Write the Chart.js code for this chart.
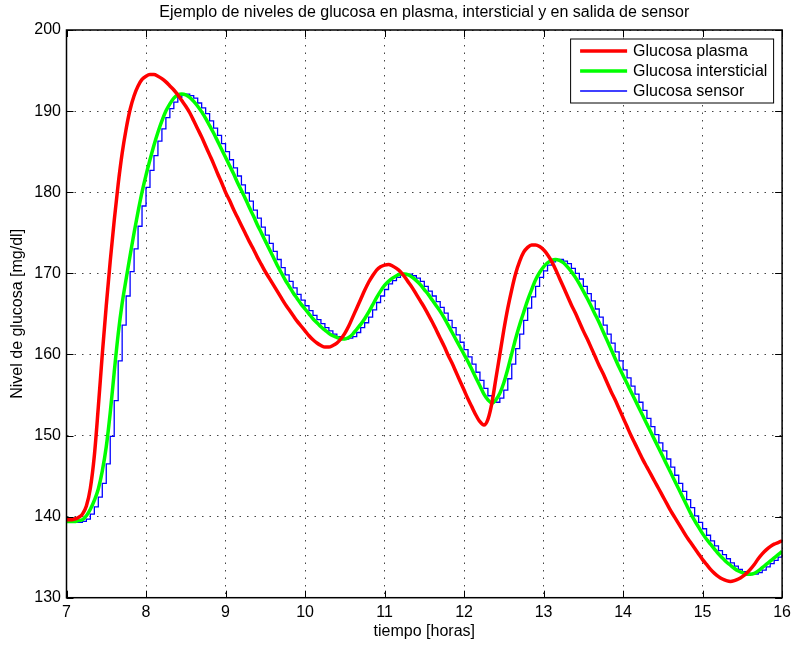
<!DOCTYPE html>
<html>
<head>
<meta charset="utf-8">
<title>Niveles de glucosa</title>
<script src="https://cdn.jsdelivr.net/npm/chart.js"></script>
<style>
    html, body { margin: 0; padding: 0; background: #ffffff; }
    #wrap { position: relative; width: 796px; height: 645px; }
</style>
</head>
<body>
<div id="wrap"><canvas id="glucose-chart"></canvas></div>
<script>
// one sample every 3 minutes, 7:00 -> 16:00
const t_start = 7;
const t_step = 0.05;

// glucosa plasma [mg/dl]
const plasma = [
    139.6, 139.6, 139.7, 139.9, 140.3, 141.3, 143.5, 147.5, 153.5, 160.0,
    166.0, 171.5, 176.5, 181.0, 184.8, 187.8, 190.2, 191.9, 193.1, 193.9,
    194.3, 194.5, 194.5, 194.3, 194.0, 193.6, 193.1, 192.6, 192.0, 191.3,
    190.6, 189.8, 188.8, 187.8, 186.8, 185.7, 184.6, 183.5, 182.3, 181.2,
    180.0, 179.0, 177.9, 176.9, 175.9, 174.9, 173.9, 173.0, 172.0, 171.1,
    170.2, 169.4, 168.6, 167.8, 167.0, 166.2, 165.5, 164.8, 164.1, 163.5,
    162.9, 162.3, 161.8, 161.4, 161.1, 160.9, 160.9, 161.1, 161.4, 161.9,
    162.6, 163.5, 164.6, 165.7, 166.8, 167.9, 168.9, 169.7, 170.4, 170.8,
    171.0, 171.1, 170.9, 170.6, 170.2, 169.6, 168.9, 168.2, 167.4, 166.6,
    165.8, 164.9, 164.0, 163.0, 162.0, 161.0, 159.9, 158.9, 157.8, 156.7,
    155.6, 154.5, 153.5, 152.5, 151.7, 151.3, 152.0, 154.0, 157.0, 160.0,
    163.0, 165.7, 168.0, 170.0, 171.5, 172.6, 173.2, 173.5, 173.5, 173.3,
    172.9, 172.3, 171.5, 170.5, 169.4, 168.3, 167.2, 166.1, 165.1, 164.0,
    162.9, 161.9, 160.8, 159.7, 158.6, 157.6, 156.5, 155.4, 154.4, 153.3,
    152.2, 151.1, 150.0, 149.0, 148.0, 147.0, 146.1, 145.2, 144.3, 143.4,
    142.5, 141.6, 140.7, 139.9, 139.1, 138.3, 137.5, 136.8, 136.1, 135.4,
    134.7, 134.1, 133.5, 133.0, 132.6, 132.3, 132.1, 132.0, 132.1, 132.3,
    132.6, 133.0, 133.5, 134.1, 134.8, 135.4, 135.9, 136.3, 136.6, 136.8,
    137.0
];

// glucosa intersticial [mg/dl]
const interstitial = [
    139.4, 139.4, 139.4, 139.5, 139.6, 140.1, 140.9, 142.0, 143.4, 145.6,
    148.6, 152.8, 157.8, 162.5, 166.3, 169.3, 172.2, 175.0, 177.6, 180.0,
    182.1, 184.0, 185.8, 187.4, 188.8, 190.0, 190.9, 191.6, 192.0, 192.1,
    192.0, 191.7, 191.2, 190.6, 189.9, 189.1, 188.2, 187.3, 186.3, 185.3,
    184.3, 183.3, 182.3, 181.2, 180.2, 179.2, 178.1, 177.1, 176.0, 175.0,
    174.0, 173.0, 172.0, 171.0, 170.1, 169.2, 168.4, 167.6, 166.9, 166.2,
    165.6, 165.0, 164.4, 163.9, 163.4, 163.0, 162.6, 162.3, 162.1, 161.9,
    161.9, 162.1, 162.5, 163.1, 163.7, 164.4, 165.2, 166.1, 167.0, 167.8,
    168.5, 169.0, 169.4, 169.7, 169.9, 169.9, 169.8, 169.5, 169.1, 168.6,
    168.0, 167.4, 166.7, 166.0, 165.3, 164.5, 163.6, 162.7, 161.8, 160.9,
    160.0, 159.1, 158.1, 157.1, 156.1, 155.1, 154.4, 154.0, 154.4, 155.2,
    156.5, 158.2, 160.1, 162.0, 163.7, 165.2, 166.7, 168.0, 169.2, 170.1,
    170.8, 171.3, 171.6, 171.7, 171.6, 171.3, 170.8, 170.2, 169.5, 168.7,
    167.8, 166.9, 165.9, 164.9, 163.9, 162.8, 161.7, 160.6, 159.5, 158.4,
    157.4, 156.4, 155.4, 154.4, 153.4, 152.4, 151.4, 150.4, 149.4, 148.4,
    147.4, 146.4, 145.4, 144.4, 143.4, 142.4, 141.4, 140.4, 139.5, 138.7,
    137.9, 137.2, 136.6, 136.0, 135.4, 134.9, 134.4, 134.0, 133.6, 133.3,
    133.1, 132.9, 132.9, 133.0, 133.3, 133.7, 134.1, 134.5, 134.9, 135.3,
    135.7
];

// glucosa sensor [mg/dl], held until the next sample
const sensor = [
    139.3, 139.3, 139.3, 139.3, 139.4, 139.7, 140.3, 141.2, 142.4, 144.1,
    146.5, 149.9, 154.3, 159.2, 163.6, 167.2, 170.2, 173.0, 175.8, 178.3,
    180.6, 182.7, 184.5, 186.3, 187.8, 189.2, 190.3, 191.1, 191.7, 192.0,
    192.1, 191.9, 191.6, 191.0, 190.4, 189.7, 188.8, 187.9, 187.0, 186.0,
    185.0, 184.0, 183.0, 182.0, 180.9, 179.9, 178.9, 177.8, 176.8, 175.7,
    174.7, 173.7, 172.7, 171.7, 170.7, 169.8, 169.0, 168.2, 167.4, 166.7,
    166.0, 165.4, 164.8, 164.3, 163.8, 163.3, 162.9, 162.5, 162.2, 162.0,
    161.9, 162.0, 162.2, 162.7, 163.3, 163.9, 164.6, 165.5, 166.4, 167.2,
    168.0, 168.7, 169.1, 169.5, 169.8, 169.9, 169.9, 169.7, 169.4, 169.0,
    168.4, 167.8, 167.2, 166.5, 165.8, 165.1, 164.2, 163.3, 162.4, 161.5,
    160.6, 159.7, 158.8, 157.8, 156.8, 155.8, 154.9, 154.3, 154.1, 154.6,
    155.6, 157.0, 158.8, 160.7, 162.5, 164.2, 165.7, 167.1, 168.4, 169.5,
    170.3, 171.0, 171.4, 171.6, 171.7, 171.5, 171.2, 170.6, 170.0, 169.3,
    168.4, 167.5, 166.6, 165.6, 164.6, 163.6, 162.5, 161.4, 160.3, 159.2,
    158.1, 157.1, 156.1, 155.1, 154.1, 153.1, 152.1, 151.1, 150.1, 149.1,
    148.1, 147.1, 146.1, 145.1, 144.1, 143.1, 142.1, 141.1, 140.1, 139.3,
    138.5, 137.7, 137.0, 136.4, 135.8, 135.3, 134.8, 134.3, 133.9, 133.5,
    133.2, 133.0, 132.9, 132.9, 133.1, 133.4, 133.8, 134.2, 134.6, 135.0,
    135.4
];

const x_ticks = [7, 8, 9, 10, 11, 12, 13, 14, 15, 16];
const y_ticks = [130, 140, 150, 160, 170, 180, 190, 200];

const series_names = ["Glucosa plasma", "Glucosa intersticial", "Glucosa sensor"];
const series_colors = ["#ff0000", "#00ff00", "#0000ff"];
const title_text = "Ejemplo de niveles de glucosa en plasma, intersticial y en salida de sensor";
const x_label = "tiempo [horas]";
const y_label = "Nivel de glucosa [mg/dl]";

const font_family = "'Liberation Sans', Arial, Helvetica, sans-serif";

function toPoints(values) {
    let points = [];
    for (let i = 0; i < values.length; i++) {
        points.push({ x: +(t_start + i * t_step).toFixed(2), y: values[i] });
    }
    return points;
}

// box round the axes with inward ticks, matlab style
const boxPlugin = {
    id: "axesBox",
    afterDatasetsDraw(chart) {
        const ctx = chart.ctx;
        const area = chart.chartArea;
        const xs = chart.scales.x;
        const ys = chart.scales.y;
        const tick_len = 7;

        ctx.save();
        ctx.strokeStyle = "#000000";
        ctx.lineWidth = 1;
        ctx.beginPath();
        for (let v of x_ticks) {
            let px = Math.round(xs.getPixelForValue(v)) + 0.5;
            ctx.moveTo(px, area.bottom);
            ctx.lineTo(px, area.bottom - tick_len);
            ctx.moveTo(px, area.top);
            ctx.lineTo(px, area.top + tick_len);
        }
        for (let v of y_ticks) {
            let py = Math.round(ys.getPixelForValue(v)) + 0.5;
            ctx.moveTo(area.left, py);
            ctx.lineTo(area.left + tick_len, py);
            ctx.moveTo(area.right, py);
            ctx.lineTo(area.right - tick_len, py);
        }
        ctx.stroke();

        ctx.lineWidth = 1.5;
        ctx.strokeRect(area.left, area.top, area.right - area.left, area.bottom - area.top);
        ctx.restore();
    }
};

// legend box in the top right corner of the axes
const legendPlugin = {
    id: "cornerLegend",
    afterDraw(chart) {
        const ctx = chart.ctx;
        const area = chart.chartArea;
        const box_w = 203;
        const box_h = 64;
        const box_x = area.right - 9 - box_w;
        const box_y = area.top + 8.5;

        ctx.save();
        ctx.fillStyle = "#ffffff";
        ctx.fillRect(box_x, box_y, box_w, box_h);
        ctx.strokeStyle = "#000000";
        ctx.lineWidth = 1;
        ctx.strokeRect(box_x + 0.5, box_y + 0.5, box_w, box_h);

        ctx.font = "16px " + font_family;
        ctx.textBaseline = "middle";
        ctx.textAlign = "left";
        chart.data.datasets.forEach((ds, i) => {
            let row_y = box_y + 12.5 + i * 20;
            ctx.strokeStyle = ds.borderColor;
            ctx.lineWidth = ds.borderWidth;
            ctx.beginPath();
            ctx.moveTo(box_x + 10, row_y);
            ctx.lineTo(box_x + 57, row_y);
            ctx.stroke();
            ctx.fillStyle = "#000000";
            ctx.fillText(ds.label, box_x + 63, row_y + 1);
        });
        ctx.restore();
    }
};

const ctx = document.getElementById("glucose-chart").getContext("2d");

const glucoseChart = new Chart(ctx, {
    type: "line",
    data: {
        datasets: [
            {
                label: series_names[0],
                data: toPoints(plasma),
                borderColor: series_colors[0],
                borderWidth: 3.5,
                pointRadius: 0,
                cubicInterpolationMode: "monotone"
            },
            {
                label: series_names[1],
                data: toPoints(interstitial),
                borderColor: series_colors[1],
                borderWidth: 3.5,
                pointRadius: 0,
                cubicInterpolationMode: "monotone"
            },
            {
                label: series_names[2],
                data: toPoints(sensor),
                borderColor: series_colors[2],
                borderWidth: 1.3,
                pointRadius: 0,
                stepped: "before"
            }
        ]
    },
    options: {
        responsive: true,
        maintainAspectRatio: false,
        animation: false,
        events: [],
        layout: { padding: { left: 0, right: 10.5, top: 0, bottom: 0 } },
        plugins: {
            legend: { display: false },
            tooltip: { enabled: false },
            title: {
                display: true,
                text: title_text,
                fullSize: false,
                color: "#000000",
                font: { family: font_family, size: 16, weight: "normal" },
                padding: { top: 3, bottom: 7.8 }
            }
        },
        scales: {
            x: {
                type: "linear",
                min: 7,
                max: 16,
                afterBuildTicks: scale => { scale.ticks = x_ticks.map(v => ({ value: v })); },
                afterFit: scale => { scale.height = 47.3; },
                grid: { color: "#444444", lineWidth: 1, drawTicks: false },
                border: { display: false, dash: [1.5, 6] },
                ticks: {
                    color: "#000000",
                    font: { family: font_family, size: 16 },
                    padding: 5,
                    maxRotation: 0,
                    autoSkip: false
                },
                title: {
                    display: true,
                    text: x_label,
                    color: "#000000",
                    font: { family: font_family, size: 16 },
                    padding: { top: 0, bottom: 3.4 }
                }
            },
            y: {
                type: "linear",
                min: 130,
                max: 200,
                afterBuildTicks: scale => { scale.ticks = y_ticks.map(v => ({ value: v })); },
                afterFit: scale => { scale.width = 66.5; },
                grid: { color: "#444444", lineWidth: 1, drawTicks: false },
                border: { display: false, dash: [1.5, 6] },
                ticks: {
                    color: "#000000",
                    font: { family: font_family, size: 16 },
                    padding: 5.5,
                    autoSkip: false
                },
                title: {
                    display: true,
                    text: y_label,
                    color: "#000000",
                    font: { family: font_family, size: 16 },
                    padding: { top: 8.4, bottom: 0 }
                }
            }
        }
    },
    plugins: [boxPlugin, legendPlugin]
});
</script>
</body>
</html>
